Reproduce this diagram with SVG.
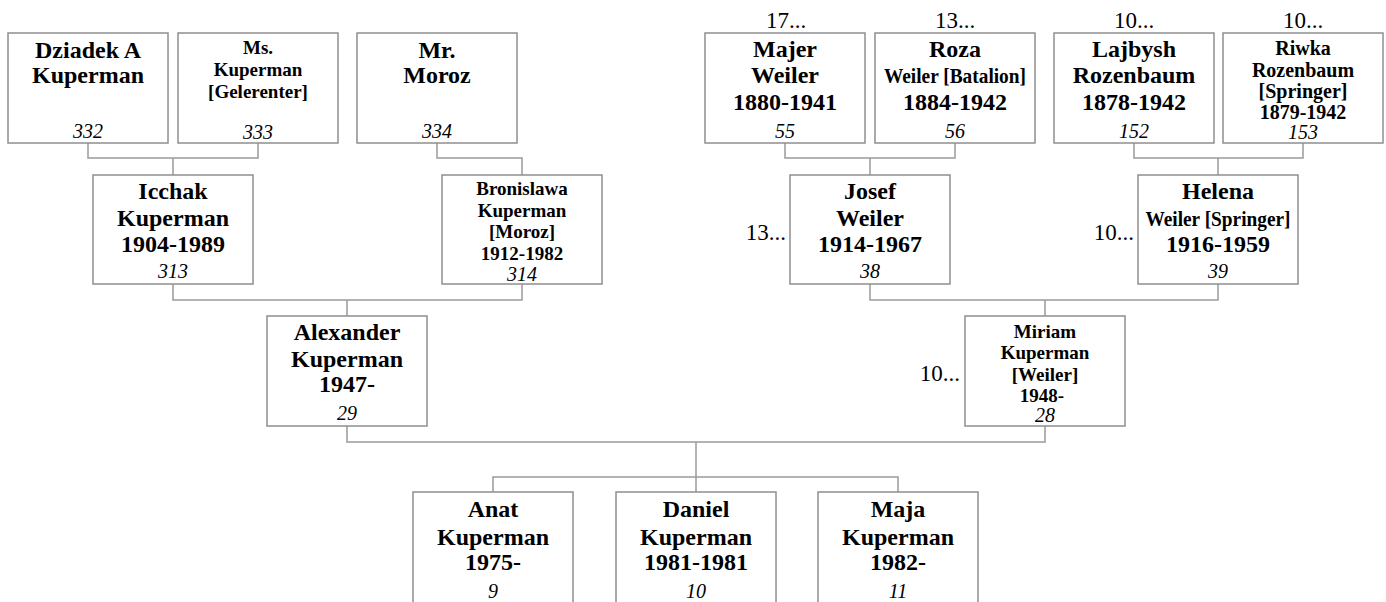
<svg xmlns="http://www.w3.org/2000/svg" width="1386" height="602" viewBox="0 0 1386 602">
<style>
  .box { fill: #ffffff; stroke: #8f8f8f; stroke-width: 1.5; }
  .con { fill: none; stroke: #9a9a9a; stroke-width: 1.5; }
  text { font-family: "Liberation Serif", "Times New Roman", serif; fill: #000; text-anchor: middle; }
  .b { font-weight: bold; font-size: 24px; }
  .s { font-weight: bold; font-size: 19px; }
  .n { font-style: italic; font-size: 20px; }
  .m { font-size: 23px; }
  .me { font-size: 23px; text-anchor: end; }
</style>
<rect width="1386" height="602" fill="#ffffff"/>

<g id="connectors">
  <path class="con" d="M88,143 V158 H258 V143 M173,158 V175"/>
  <path class="con" d="M437,143 V158 H522 V175"/>
  <path class="con" d="M173,284 V300 H522 V284 M347,300 V316"/>
  <path class="con" d="M785,143 V158 H955 V143 M870,158 V175"/>
  <path class="con" d="M1134,143 V158 H1303 V143 M1218,158 V175"/>
  <path class="con" d="M870,284 V300 H1218 V284 M1045,300 V316"/>
  <path class="con" d="M347,426 V442 H1045 V426 M696,442 V492 M493,492 V477 H898 V492"/>
</g>

<g id="n332">
  <rect class="box" x="8" y="33" width="160" height="110"/>
  <text class="b" x="88" y="58">Dziadek A</text>
  <text class="b" x="88" y="83">Kuperman</text>
  <text class="n" x="88" y="138">332</text>
</g>
<g id="n333">
  <rect class="box" x="178" y="33" width="160" height="110"/>
  <text class="s" x="258" y="54">Ms.</text>
  <text class="s" x="258" y="76">Kuperman</text>
  <text class="s" x="258" y="98">[Gelerenter]</text>
  <text class="n" x="258" y="139">333</text>
</g>
<g id="n334">
  <rect class="box" x="357" y="33" width="160" height="110"/>
  <text class="b" x="437" y="58">Mr.</text>
  <text class="b" x="437" y="83">Moroz</text>
  <text class="n" x="437" y="138">334</text>
</g>
<g id="n55">
  <text class="m" x="786" y="28">17...</text>
  <rect class="box" x="705" y="33" width="160" height="110"/>
  <text class="b" x="785" y="57">Majer</text>
  <text class="b" x="785" y="83">Weiler</text>
  <text class="b" x="785" y="110">1880-1941</text>
  <text class="n" x="785" y="138">55</text>
</g>
<g id="n56">
  <text class="m" x="955" y="28">13...</text>
  <rect class="box" x="875" y="33" width="160" height="110"/>
  <text class="b" x="955" y="57">Roza</text>
  <text class="b" x="955" y="83" textLength="142" lengthAdjust="spacingAndGlyphs" style="font-size:22px">Weiler [Batalion]</text>
  <text class="b" x="955" y="110">1884-1942</text>
  <text class="n" x="955" y="138">56</text>
</g>
<g id="n152">
  <text class="m" x="1134" y="28">10...</text>
  <rect class="box" x="1054" y="33" width="160" height="110"/>
  <text class="b" x="1134" y="57">Lajbysh</text>
  <text class="b" x="1134" y="83">Rozenbaum</text>
  <text class="b" x="1134" y="110">1878-1942</text>
  <text class="n" x="1134" y="138">152</text>
</g>
<g id="n153">
  <text class="m" x="1303" y="28">10...</text>
  <rect class="box" x="1223" y="33" width="160" height="110"/>
  <text class="s" x="1303" y="55" style="font-size:20px">Riwka</text>
  <text class="s" x="1303" y="77" style="font-size:20px">Rozenbaum</text>
  <text class="s" x="1303" y="98" style="font-size:20px">[Springer]</text>
  <text class="s" x="1303" y="119" style="font-size:20px">1879-1942</text>
  <text class="n" x="1303" y="139">153</text>
</g>

<g id="n313">
  <rect class="box" x="93" y="175" width="160" height="109"/>
  <text class="b" x="173" y="199">Icchak</text>
  <text class="b" x="173" y="226">Kuperman</text>
  <text class="b" x="173" y="252">1904-1989</text>
  <text class="n" x="173" y="278">313</text>
</g>
<g id="n314">
  <rect class="box" x="442" y="175" width="160" height="109"/>
  <text class="s" x="522" y="195">Bronislawa</text>
  <text class="s" x="522" y="217">Kuperman</text>
  <text class="s" x="522" y="238">[Moroz]</text>
  <text class="s" x="522" y="260">1912-1982</text>
  <text class="n" x="522" y="281">314</text>
</g>
<g id="n38">
  <text class="me" x="786" y="240">13...</text>
  <rect class="box" x="790" y="175" width="160" height="109"/>
  <text class="b" x="870" y="199">Josef</text>
  <text class="b" x="870" y="226">Weiler</text>
  <text class="b" x="870" y="252">1914-1967</text>
  <text class="n" x="870" y="278">38</text>
</g>
<g id="n39">
  <text class="me" x="1134" y="240">10...</text>
  <rect class="box" x="1138" y="175" width="160" height="109"/>
  <text class="b" x="1218" y="199">Helena</text>
  <text class="b" x="1218" y="226" textLength="145" lengthAdjust="spacingAndGlyphs" style="font-size:22px">Weiler [Springer]</text>
  <text class="b" x="1218" y="252">1916-1959</text>
  <text class="n" x="1218" y="278">39</text>
</g>

<g id="n29">
  <rect class="box" x="267" y="316" width="160" height="110"/>
  <text class="b" x="347" y="340">Alexander</text>
  <text class="b" x="347" y="367">Kuperman</text>
  <text class="b" x="347" y="392">1947-</text>
  <text class="n" x="347" y="420">29</text>
</g>
<g id="n28">
  <text class="me" x="960" y="381">10...</text>
  <rect class="box" x="965" y="316" width="160" height="110"/>
  <text class="s" x="1045" y="338">Miriam</text>
  <text class="s" x="1045" y="359">Kuperman</text>
  <text class="s" x="1045" y="381">[Weiler]</text>
  <text class="s" x="1042" y="402">1948-</text>
  <text class="n" x="1045" y="422">28</text>
</g>

<g id="n9">
  <rect class="box" x="413" y="492" width="160" height="111"/>
  <text class="b" x="493" y="517">Anat</text>
  <text class="b" x="493" y="545">Kuperman</text>
  <text class="b" x="493" y="570">1975-</text>
  <text class="n" x="493" y="598">9</text>
</g>
<g id="n10">
  <rect class="box" x="616" y="492" width="160" height="111"/>
  <text class="b" x="696" y="517">Daniel</text>
  <text class="b" x="696" y="545">Kuperman</text>
  <text class="b" x="696" y="570">1981-1981</text>
  <text class="n" x="696" y="598">10</text>
</g>
<g id="n11">
  <rect class="box" x="818" y="492" width="160" height="111"/>
  <text class="b" x="898" y="517">Maja</text>
  <text class="b" x="898" y="545">Kuperman</text>
  <text class="b" x="898" y="570">1982-</text>
  <text class="n" x="898" y="598">11</text>
</g>
</svg>
